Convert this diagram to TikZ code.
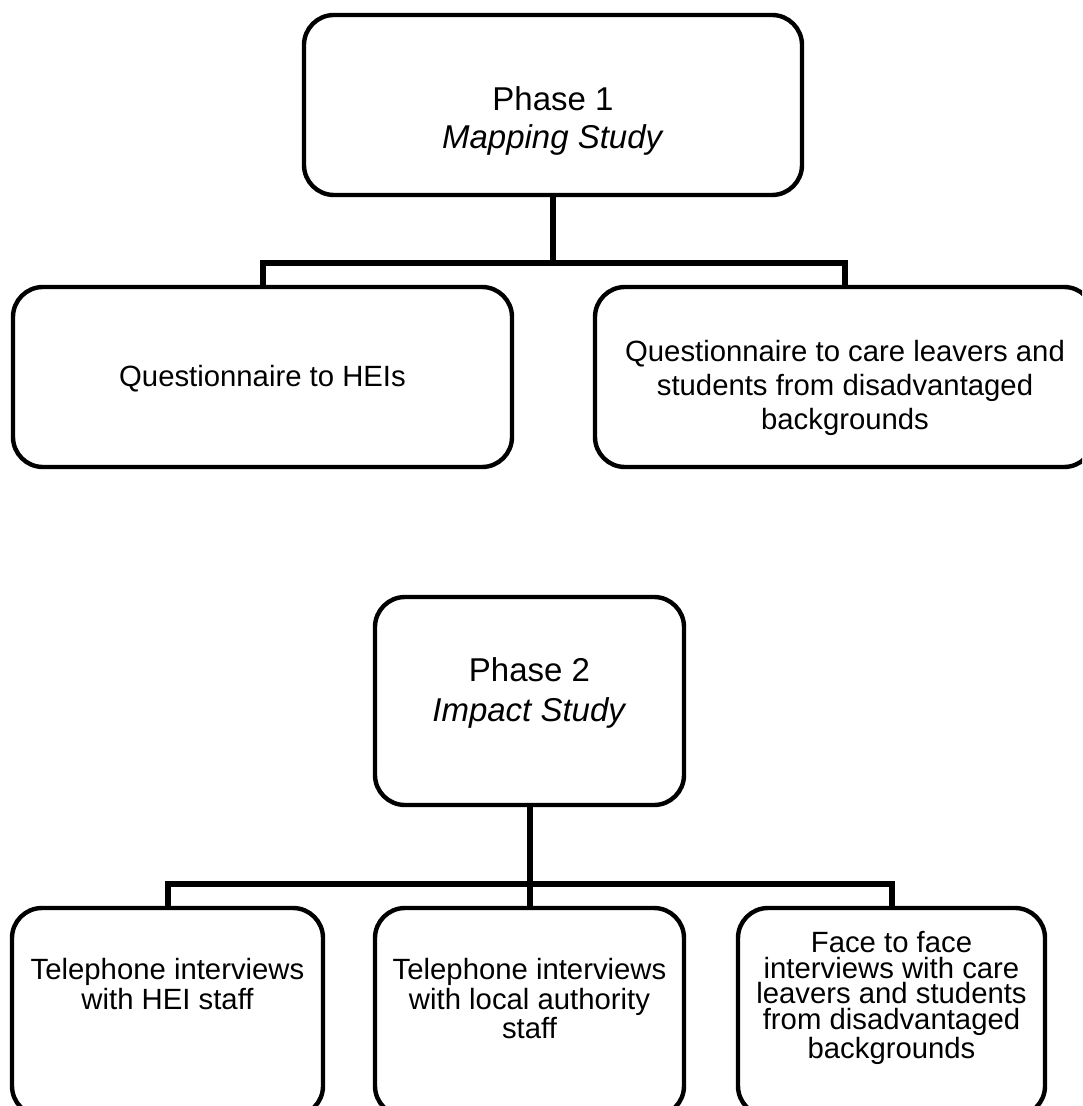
\documentclass[tikz,border=0pt]{standalone}
\usepackage{fontspec}
\setmainfont{Liberation Sans}
\newcommand{\topstrut}{\rule{0pt}{0.8em}}
\begin{document}
\begin{tikzpicture}[x=0.5pt,y=-0.5pt,
  box/.style={draw=black, line width=2.2pt, rounded corners=15pt, fill=white, inner sep=0pt, outer sep=0pt},
  conn/.style={draw=black, line width=3pt},
  txt/.style={inner sep=0pt, outer sep=0pt, align=center, anchor=north, text=black},
  phasetxt/.style={txt, font=\fontsize{16.5pt}{18.6pt}\selectfont},
  rowonetxt/.style={txt, font=\fontsize{14.65pt}{17pt}\selectfont},
  rowtwotxt/.style={txt, font=\fontsize{14.65pt}{12.8pt}\selectfont}]
\useasboundingbox (0,0) rectangle (1082,1106);
\fill[white] (0,0) rectangle (1082,1106);
\clip (0,0) rectangle (1082,1106);

% Phase 1
\node[box, minimum width=249pt, minimum height=90pt] (P1) at (553,105) {};
\node[box, minimum width=249.5pt, minimum height=90pt] (Q1) at (262.5,377) {};
\node[box, minimum width=249.5pt, minimum height=90pt] (Q2) at (844.5,377) {};
\coordinate (b1) at (553,263);
\draw[conn] (P1.south) -- (b1);
\draw[conn] (Q1.north) |- (b1) -| (Q2.north);

\node[phasetxt] (P1t) at (553,84.5) {\topstrut Phase 1\\\textit{Mapping Study}};
\node[rowonetxt] (Q1t) at (262.5,363.3) {\topstrut Questionnaire to HEIs};
\node[rowonetxt] (Q2t) at (845,338.3) {\topstrut Questionnaire to care leavers and\\students from disadvantaged\\backgrounds};

% Phase 2
\node[box, minimum width=154.5pt, minimum height=104pt] (P2) at (529.5,701) {};
\node[box, minimum width=155.5pt, minimum height=104pt] (T1) at (167.5,1012) {};
\node[box, minimum width=154.5pt, minimum height=104pt] (T2) at (529.5,1012) {};
\node[box, minimum width=153.5pt, minimum height=104pt] (T3) at (891.5,1012) {};
\coordinate (b2) at (529.5,884);
\draw[conn] (P2.south) -- (b2);
\draw[conn] (T1.north) |- (b2) -| (T3.north);
\draw[conn] (b2) -- (T2.north);

\node[phasetxt, font=\fontsize{16.5pt}{20pt}\selectfont] (P2t) at (529.5,655.5) {\topstrut Phase 2\\\textit{Impact Study}};
\node[rowtwotxt] (T1t) at (167.5,956.3) {\topstrut Telephone interviews\\with HEI staff};
\node[rowtwotxt] (T2t) at (529.5,956.3) {\topstrut Telephone interviews\\with local authority\\staff};
\node[rowtwotxt] (T3t) at (891.5,929.3) {\topstrut Face to face\\interviews with care\\leavers and students\\from disadvantaged\\backgrounds};
\end{tikzpicture}
\end{document}
